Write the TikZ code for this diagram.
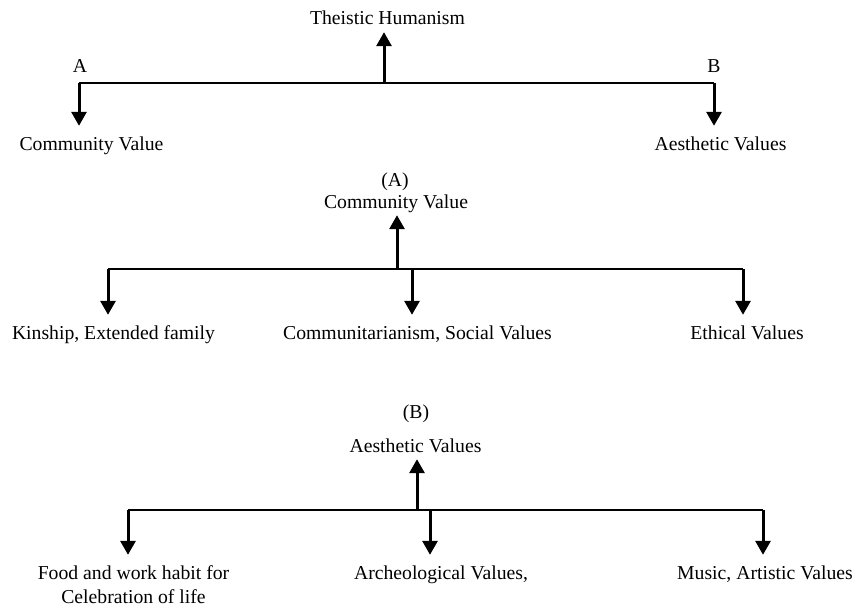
\documentclass[tikz,border=0pt]{standalone}
\usepackage{fontspec}
\setmainfont{Liberation Serif}
\usetikzlibrary{arrows.meta, calc}

\begin{document}
\begin{tikzpicture}[x=1pt, y=-1pt,
    lbl/.style={anchor=base, inner xsep=0pt, inner ysep=3pt, text height=14pt, text depth=4pt,
                align=center, font=\fontsize{19.7}{24}\selectfont},
    bar/.style={line width=1.8pt},
    up/.style={line width=3pt, -{Triangle[width=15pt, length=14pt]}},
    down/.style={up, shorten >=7pt}]
    \useasboundingbox (0,0) rectangle (858,607);

    % Theistic Humanism
    \node[lbl] (root) at (387.5,25) {Theistic Humanism};
    \node[lbl] (a) at (80,73) {A};
    \node[lbl] (b) at (714,73) {B};
    \node[lbl] (comm) at (91.5,150) {Community Value};
    \node[lbl] (aest) at (720.5,150) {Aesthetic Values};
    \coordinate (topl) at (79,83);
    \coordinate (topm) at (384,83);
    \coordinate (topr) at (714,83);
    \draw[bar] (topl) -- (topr);
    \draw[up] (topm) -- (topm |- root.south);
    \draw[down] (topl) -- (topl |- comm.north);
    \draw[down] (topr) -- (topr |- aest.north);

    % (A) Community Value
    \node[lbl] (labA) at (395,186) {(A)};
    \node[lbl] (headA) at (396,208) {Community Value};
    \node[lbl] (kin) at (113.5,339) {Kinship, Extended family};
    \node[lbl] (soc) at (417.5,339) {Communitarianism, Social Values};
    \node[lbl] (eth) at (747,339) {Ethical Values};
    \coordinate (midl) at (108,269);
    \coordinate (midm) at (397,269);
    \coordinate (mids) at (412,269);
    \coordinate (midr) at (743,269);
    \draw[bar] (midl) -- (midr);
    \draw[up] (midm) -- (midm |- headA.south);
    \draw[down] (midl) -- (midl |- kin.north);
    \draw[down] (mids) -- (mids |- soc.north);
    \draw[down] (midr) -- (midr |- eth.north);

    % (B) Aesthetic Values
    \node[lbl] (labB) at (416,418) {(B)};
    \node[lbl] (headB) at (415.5,452) {Aesthetic Values};
    \node[lbl, text height=38pt] (food) at (133.5,603) {Food and work habit for\\Celebration of life};
    \node[lbl] (arch) at (441,579) {Archeological Values,};
    \node[lbl] (music) at (765,579) {Music, Artistic Values};
    \coordinate (botl) at (128,510);
    \coordinate (botm) at (417,510);
    \coordinate (bots) at (430,510);
    \coordinate (botr) at (763,510);
    \draw[bar] (botl) -- (botr);
    \draw[up] (botm) -- (botm |- headB.south);
    \draw[down] (botl) -- (botl |- food.north);
    \draw[down] (bots) -- (bots |- arch.north);
    \draw[down] (botr) -- (botr |- music.north);
\end{tikzpicture}
\end{document}
